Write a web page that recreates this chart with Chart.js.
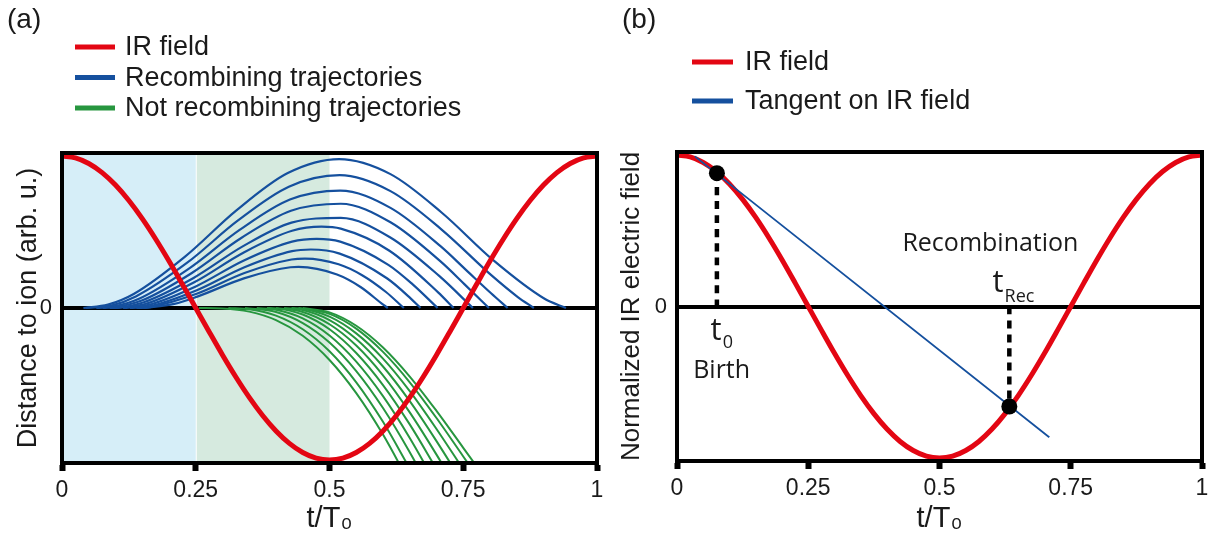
<!DOCTYPE html>
<html>
<head>
<meta charset="utf-8">
<title>IR field and electron trajectories</title>
<script src="https://cdn.jsdelivr.net/npm/chart.js@4.4.1/dist/chart.umd.min.js"></script>
<style>
  html, body { margin:0; padding:0; background:#ffffff; }
  #wrap { position:relative; width:1222px; height:540px; overflow:hidden; background:#fff; }
  #wrap canvas { position:absolute; top:0; }
  #chartA { left:0; }
  #chartB { left:611px; }
</style>
</head>
<body>
<div id="wrap">
  <canvas id="chartA" width="611" height="540"></canvas>
  <canvas id="chartB" width="611" height="540"></canvas>
</div>
<script>
// ---------------- data ----------------
const tIR = [0,0.025,0.05,0.075,0.1,0.125,0.15,0.175,0.2,0.225,0.25,0.275,0.3,0.325,0.35,0.375,0.4,0.425,0.45,0.475,0.5,
             0.525,0.55,0.575,0.6,0.625,0.65,0.675,0.7,0.725,0.75,0.775,0.8,0.825,0.85,0.875,0.9,0.925,0.95,0.975,1];
const irField = [1,0.988,0.951,0.891,0.809,0.707,0.588,0.454,0.309,0.156,0,-0.156,-0.309,-0.454,-0.588,-0.707,-0.809,-0.891,-0.951,-0.988,-1,
                 -0.988,-0.951,-0.891,-0.809,-0.707,-0.588,-0.454,-0.309,-0.156,0,0.156,0.309,0.454,0.588,0.707,0.809,0.891,0.951,0.988,1];

const xTickValues = [0, 0.25, 0.5, 0.75, 1];
const xTickLabels = ['0', '0.25', '0.5', '0.75', '1'];
const yTickValues = [0];
const yTickLabels = ['0'];

const shadeFrom = [0, 0.25];
const shadeTo = [0.25, 0.5];

// recombining trajectories (times t/T0 and distance values)
const recombT = [
  [0.04,0.086,0.134,0.23,0.326,0.422,0.518,0.614,0.71,0.806,0.902,0.942],
  [0.045,0.092,0.138,0.234,0.329,0.424,0.519,0.614,0.709,0.804,0.852,0.882],
  [0.064,0.097,0.144,0.238,0.332,0.426,0.52,0.614,0.708,0.755,0.802,0.833],
  [0.076,0.102,0.149,0.242,0.335,0.428,0.521,0.614,0.707,0.753,0.798],
  [0.089,0.107,0.153,0.245,0.337,0.429,0.521,0.613,0.705,0.768],
  [0.102,0.157,0.248,0.339,0.43,0.485,0.521,0.612,0.703,0.732],
  [0.114,0.16,0.25,0.34,0.43,0.476,0.52,0.61,0.655,0.702],
  [0.127,0.163,0.252,0.341,0.43,0.465,0.519,0.608,0.652,0.67],
  [0.139,0.165,0.253,0.341,0.429,0.454,0.517,0.561,0.605,0.639],
  [0.152,0.21,0.253,0.34,0.427,0.442,0.514,0.558,0.601,0.609]
];
const recombD = [
  [0,0.022,0.092,0.338,0.642,0.888,0.98,0.881,0.627,0.315,0.061,0],
  [0,0.016,0.076,0.298,0.576,0.798,0.874,0.769,0.518,0.211,0.072,0],
  [0,0.011,0.061,0.261,0.514,0.714,0.773,0.659,0.405,0.251,0.097,0],
  [0,0.007,0.049,0.229,0.461,0.64,0.686,0.564,0.308,0.154,0],
  [0,0.003,0.038,0.196,0.404,0.562,0.593,0.466,0.211,0],
  [0,0.028,0.171,0.364,0.508,0.535,0.522,0.377,0.103,0],
  [0,0.019,0.142,0.313,0.437,0.455,0.437,0.284,0.157,0],
  [0,0.011,0.117,0.268,0.374,0.385,0.358,0.194,0.062,0],
  [0,0.006,0.095,0.23,0.319,0.325,0.288,0.216,0.107,0],
  [0,0.027,0.075,0.195,0.268,0.27,0.22,0.138,0.02,0]
];

// not recombining trajectories
const freeT = [
  [0.256,0.3,0.35,0.4,0.45,0.5,0.55,0.6,0.65],
  [0.311,0.35,0.4,0.45,0.5,0.55,0.6,0.65],
  [0.342,0.4,0.45,0.5,0.55,0.6,0.65,0.7],
  [0.364,0.4,0.45,0.5,0.55,0.6,0.65,0.7],
  [0.383,0.4,0.45,0.5,0.55,0.6,0.65,0.7],
  [0.4,0.45,0.5,0.55,0.6,0.65,0.7,0.75],
  [0.415,0.45,0.5,0.55,0.6,0.65,0.7,0.75],
  [0.429,0.45,0.5,0.55,0.6,0.65,0.7,0.75],
  [0.442,0.5,0.55,0.6,0.65,0.7,0.75,0.8],
  [0.45,0.5,0.55,0.6,0.65,0.7,0.75,0.8]
];
const freeD = [
  [0,-0.003,-0.024,-0.08,-0.183,-0.342,-0.56,-0.833,-1.154],
  [0,-0.008,-0.05,-0.14,-0.285,-0.489,-0.749,-1.057],
  [0,-0.026,-0.099,-0.227,-0.415,-0.658,-0.949,-1.274],
  [0,-0.011,-0.068,-0.181,-0.353,-0.58,-0.855,-1.165],
  [0,-0.0025,-0.043,-0.14,-0.296,-0.507,-0.766,-1.059],
  [0,-0.026,-0.107,-0.247,-0.443,-0.687,-0.965,-1.261],
  [0,-0.013,-0.079,-0.204,-0.385,-0.613,-0.876,-1.157],
  [0,-0.005,-0.057,-0.167,-0.333,-0.547,-0.796,-1.062],
  [0,-0.039,-0.136,-0.289,-0.489,-0.724,-0.977,-1.23],
  [0,-0.029,-0.117,-0.26,-0.451,-0.677,-0.92,-1.164]
];

// panel (b)
const tangentT = [0.034, 0.709];
const tangentE = [0.991, -0.863];
const eventT = [0.076, 0.633];   // birth, recombination
const eventE = [0.88, -0.66];

const legendA = ['IR field', 'Recombining trajectories', 'Not recombining trajectories'];
const legendB = ['IR field', 'Tangent on IR field'];

// ---------------- styling ----------------
const FONT = "'Liberation Sans', Arial, Helvetica, sans-serif";
const FONT_ANN = "'Open Sans', 'Noto Sans', sans-serif";
const COL = {
  red: '#e30613', blue: '#15509e', green: '#27963f',
  shade: ['#d6eef8', '#d6eadf'], text: '#1a1a1a', black: '#000000'
};

const xy = (xs, ys) => xs.map((x, i) => ({ x: x, y: ys[i] }));
const lineBase = { pointRadius: 0, pointHoverRadius: 0, fill: false, cubicInterpolationMode: 'monotone' };

function xAxis(h) {
  return {
    type: 'linear', min: 0, max: 1,
    afterBuildTicks: s => { s.ticks = xTickValues.map(v => ({ value: v })); },
    afterFit: s => { s.height = h; },
    ticks: {
      callback: v => { const i = xTickValues.indexOf(v); return i >= 0 ? xTickLabels[i] : ''; },
      font: { family: FONT, size: 23 }, color: COL.text, padding: 6, maxRotation: 0, autoSkip: false
    },
    grid: { drawOnChartArea: false, drawTicks: true, tickLength: 8, tickWidth: 6, tickColor: COL.black, color: COL.black },
    border: { display: true, color: COL.black, width: 4 },
    title: { display: true, text: 't/T\u2080', font: { family: FONT, size: 29 }, color: COL.text, padding: { top: 0, bottom: 4 } }
  };
}
function yAxis(w, title, size, padTop) {
  return {
    type: 'linear', min: -1.02, max: 1.02,
    afterBuildTicks: s => { s.ticks = yTickValues.map(v => ({ value: v })); },
    afterFit: s => { s.width = w; },
    ticks: {
      callback: v => { const i = yTickValues.indexOf(v); return i >= 0 ? yTickLabels[i] : ''; },
      font: { family: FONT, size: 22 }, color: COL.text, padding: 10
    },
    grid: { drawOnChartArea: true, drawTicks: false, color: COL.black, lineWidth: 4 },
    border: { display: true, color: COL.black, width: 4 },
    title: { display: true, text: title, font: { family: FONT, size: size }, color: COL.text, padding: { top: padTop, bottom: 0 } }
  };
}

const framePlugin = {
  id: 'frame',
  afterDatasetsDraw(chart) {
    const { ctx, chartArea: a } = chart;
    ctx.save();
    ctx.strokeStyle = COL.black; ctx.lineWidth = 4;
    ctx.strokeRect(a.left, a.top, a.right - a.left, a.bottom - a.top);
    ctx.restore();
  }
};
function panelLabel(text, px, py) {
  return {
    id: 'panelLabel',
    afterDraw(chart) {
      const ctx = chart.ctx;
      ctx.save();
      ctx.font = '28px ' + FONT; ctx.fillStyle = COL.text;
      ctx.textBaseline = 'middle'; ctx.textAlign = 'left';
      ctx.fillText(text, px, py);
      ctx.restore();
    }
  };
}
function legendPlugin(labels, colors, x0, x1, tx, y0, dy) {
  return {
    id: 'customLegend',
    afterDraw(chart) {
      const ctx = chart.ctx;
      ctx.save();
      ctx.font = '27px ' + FONT; ctx.textBaseline = 'middle'; ctx.textAlign = 'left';
      labels.forEach((lab, i) => {
        const yy = y0 + dy * i;
        ctx.strokeStyle = colors[i]; ctx.lineWidth = 5;
        ctx.beginPath(); ctx.moveTo(x0, yy); ctx.lineTo(x1, yy); ctx.stroke();
        ctx.fillStyle = COL.text; ctx.fillText(lab, tx, yy + 1);
      });
      ctx.restore();
    }
  };
}
const shadePlugin = {
  id: 'shade',
  beforeDraw(chart) {
    const { ctx, chartArea: a, scales: { x } } = chart;
    ctx.save();
    shadeFrom.forEach((s, i) => {
      const x0 = x.getPixelForValue(s), x1 = x.getPixelForValue(shadeTo[i]);
      ctx.fillStyle = COL.shade[i];
      ctx.fillRect(x0 + (i ? 1 : 0), a.top, x1 - x0 - (i ? 1 : 0), a.bottom - a.top);
    });
    ctx.restore();
  }
};
function subText(ctx, main, sub, px, py, dy) {
  ctx.font = '31px ' + FONT_ANN;
  ctx.fillText(main, px, py);
  const w = ctx.measureText(main).width;
  ctx.font = '18px ' + FONT_ANN;
  ctx.fillText(sub, px + w + 1, py + dy);
}
const annotatePlugin = {
  id: 'annotate',
  afterDatasetsDraw(chart) {
    const { ctx, scales: { x, y } } = chart;
    ctx.save();
    ctx.fillStyle = COL.text; ctx.textBaseline = 'alphabetic';
    ctx.font = '25px ' + FONT_ANN; ctx.textAlign = 'center';
    ctx.fillText('Recombination', x.getPixelForValue(0.597), y.getPixelForValue(0.366));
    ctx.fillText('Birth', x.getPixelForValue(0.085), y.getPixelForValue(-0.472));
    ctx.textAlign = 'left';
    subText(ctx, 't', '0', x.getPixelForValue(0.064), y.getPixelForValue(-0.221), 8);
    subText(ctx, 't', 'Rec', x.getPixelForValue(0.601), y.getPixelForValue(0.096), 10);
    ctx.restore();
  }
};

// ---------------- chart (a) ----------------
const dsA = [];
dsA.push(Object.assign({ label: legendA[0], data: xy(tIR, irField), borderColor: COL.red, borderWidth: 5, order: 0 }, lineBase));
recombT.forEach((t, i) => dsA.push(Object.assign({ label: legendA[1], data: xy(t, recombD[i]), borderColor: COL.blue, borderWidth: 2.2, order: 1 }, lineBase)));
freeT.forEach((t, i) => dsA.push(Object.assign({ label: legendA[2], data: xy(t, freeD[i]), borderColor: COL.green, borderWidth: 2, order: 1, clip: 0 }, lineBase)));

new Chart(document.getElementById('chartA'), {
  type: 'line',
  data: { datasets: dsA },
  options: {
    responsive: false, animation: false, devicePixelRatio: 1, events: [],
    layout: { padding: { top: 153, right: 14, bottom: 0, left: 0 } },
    plugins: { legend: { display: false }, tooltip: { enabled: false } },
    scales: { x: xAxis(77), y: yAxis(62, 'Distance to ion (arb. u.)', 27, 12) }
  },
  plugins: [shadePlugin, framePlugin, legendPlugin(legendA, [COL.red, COL.blue, COL.green], 75, 115, 125, 47, 30.5), panelLabel('(a)', 7, 20)]
});

// ---------------- chart (b) ----------------
const dsB = [
  Object.assign({ label: legendB[0], data: xy(tIR, irField), borderColor: COL.red, borderWidth: 5, order: 2 }, lineBase),
  Object.assign({ label: legendB[1], data: xy(tangentT, tangentE), borderColor: COL.blue, borderWidth: 1.8, order: 1 }, lineBase),
  Object.assign({ label: 'birth', data: [{ x: eventT[0], y: eventE[0] }, { x: eventT[0], y: 0 }], borderColor: COL.black, borderWidth: 4.5, borderDash: [8, 6], order: 3 }, lineBase),
  Object.assign({ label: 'recombination', data: [{ x: eventT[1], y: 0 }, { x: eventT[1], y: eventE[1] }], borderColor: COL.black, borderWidth: 4.5, borderDash: [8, 6], order: 3 }, lineBase),
  { label: 'events', data: xy(eventT, eventE), showLine: false, pointRadius: 8, pointBackgroundColor: COL.black, pointBorderColor: COL.black, pointBorderWidth: 0, order: 0 }
];

new Chart(document.getElementById('chartB'), {
  type: 'line',
  data: { datasets: dsB },
  options: {
    responsive: false, animation: false, devicePixelRatio: 1, events: [],
    layout: { padding: { top: 152, right: 20, bottom: 0, left: 0 } },
    plugins: { legend: { display: false }, tooltip: { enabled: false } },
    scales: { x: xAxis(79), y: yAxis(66, 'Normalized IR electric field', 26, 5) }
  },
  plugins: [framePlugin, annotatePlugin, legendPlugin(legendB, [COL.red, COL.blue], 81, 122, 134, 62, 39), panelLabel('(b)', 11, 20)]
});
</script>
</body>
</html>
